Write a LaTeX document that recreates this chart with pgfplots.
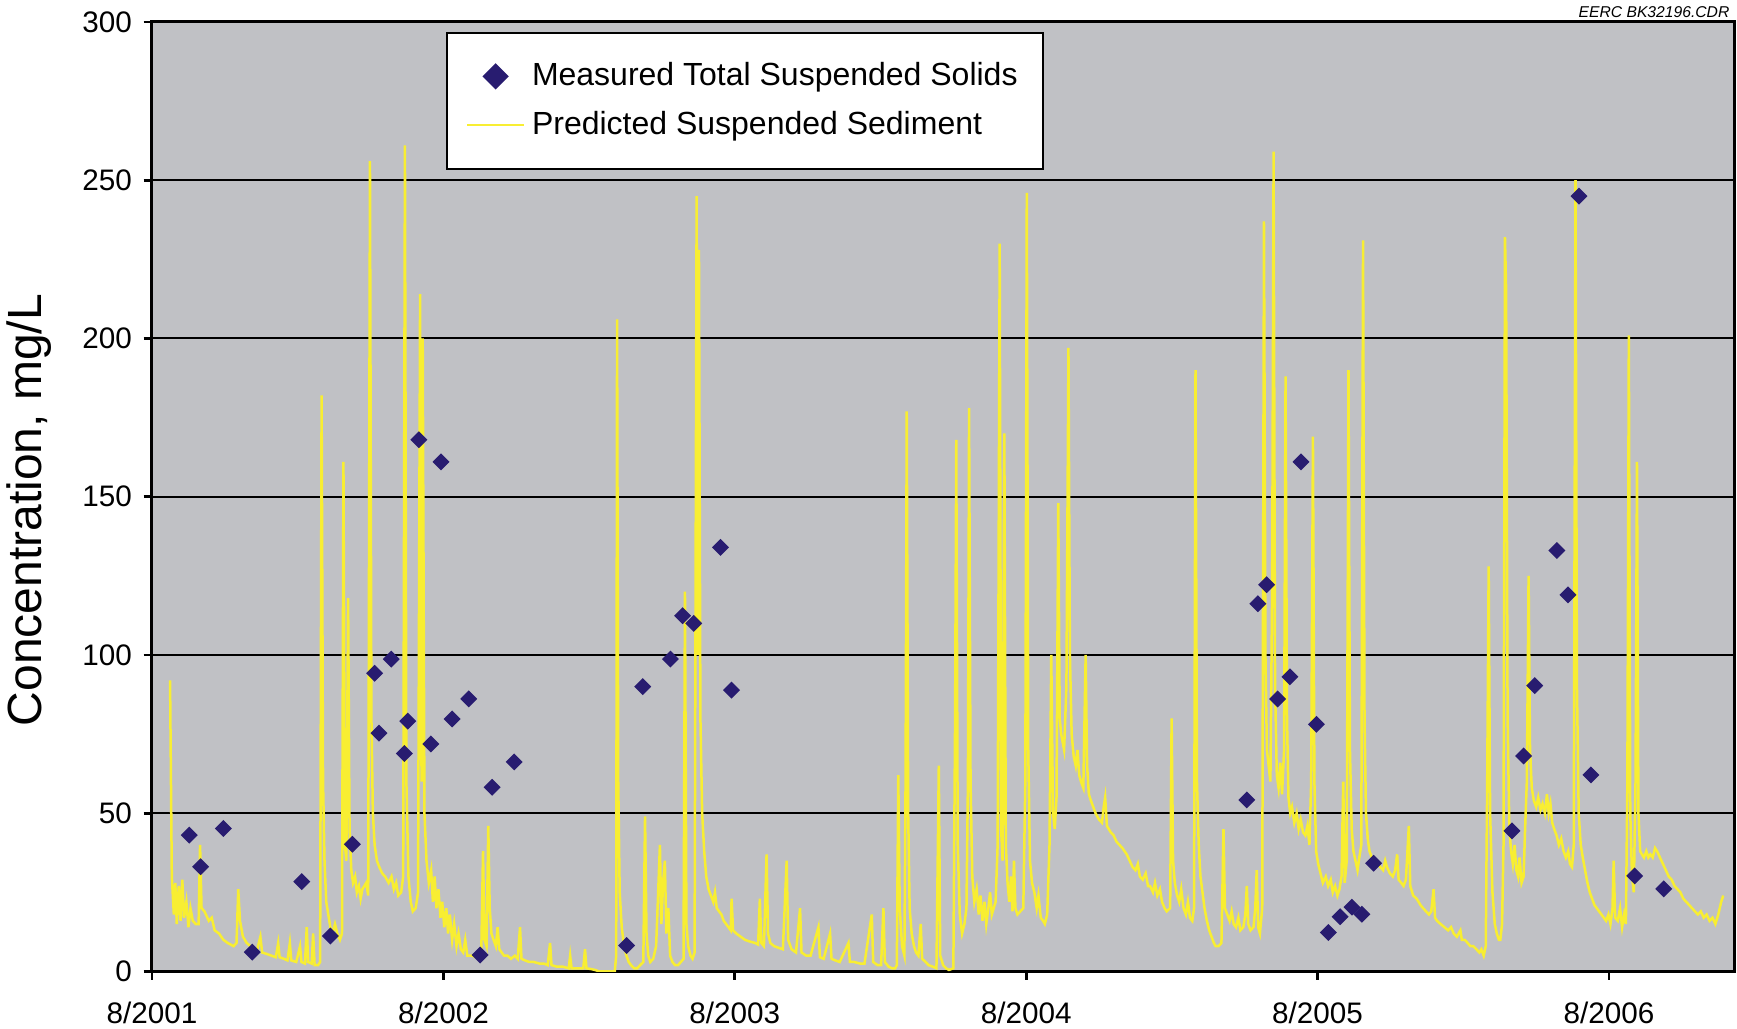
\documentclass[border=0pt]{standalone}
\usepackage{fontspec}
\setmainfont{Liberation Sans}
\usepackage{pgfplots}
\pgfplotsset{compat=1.18}
\definecolor{plotbg}{RGB}{192,193,197}
\definecolor{sedyellow}{RGB}{248,238,50}
\definecolor{tssblue}{RGB}{40,28,112}

\begin{document}
\begin{tikzpicture}
\begin{axis}[
  scale only axis,
  width=474.6pt, height=284.85pt,
  xmin=0, xmax=5.429, ymin=0, ymax=300,
  axis background/.style={fill=plotbg},
  axis line style={line width=0.9pt},
  xtick={0,1,2,3,4,5},
  xticklabels={8/2001,8/2002,8/2003,8/2004,8/2005,8/2006},
  ytick={0,50,...,300},
  tick pos=left, tick align=outside,
  major tick length=2.5pt,
  tick style={line width=0.8pt, black},
  ymajorgrids, major grid style={line width=0.6pt, black},
  ticklabel style={font=\fontsize{8.9}{10}\selectfont},
  xticklabel style={yshift=-3.2pt},
  /pgf/number format/assume math mode=true,
  ylabel={Concentration, mg/L},
  ylabel style={font=\fontsize{14.4}{16}\selectfont, at={(axis description cs:-0.0776,0.486)}, anchor=center},
  legend style={at={(rel axis cs:0.186,0.9895)}, anchor=north west, draw=black, line width=0.6pt,
    fill=white, font=\fontsize{9.6}{11}\selectfont, row sep=2.2pt, inner xsep=5.6pt, inner ysep=6.8pt,
    cells={anchor=west}},
  reverse legend,
  legend image post style={mark size=2.5pt},
]
% predicted (daily model)
\addplot[sedyellow, line width=0.75pt] coordinates {
(0.062,92)(0.068,30)(0.075,18)(0.080,28)(0.085,15)(0.092,27)(0.098,16)(0.104,29)(0.110,17)(0.118,22)
(0.125,14)(0.132,20)(0.140,16)(0.150,15)(0.160,15)(0.165,40)(0.170,20)(0.180,19)(0.195,16)(0.205,17)
(0.215,13)(0.230,12)(0.245,10)(0.260,9)(0.280,8)(0.290,9)(0.296,26)(0.302,16)(0.312,11)(0.325,9)
(0.338,8)(0.350,7)(0.360,6.5)(0.372,11)(0.378,6)(0.395,5.5)(0.410,5)(0.425,4.5)(0.433,9)(0.438,4.5)
(0.453,4)(0.465,3.5)(0.473,9)(0.478,3.5)(0.495,3)(0.508,8)(0.513,3)(0.525,2.5)(0.531,14)(0.536,3)
(0.548,2.5)(0.553,12)(0.558,2)(0.570,2)(0.577,3)(0.582,182)(0.587,60)(0.592,35)(0.598,22)(0.605,18)
(0.612,14)(0.620,12)(0.628,15)(0.636,12)(0.645,10)(0.652,12)(0.657,161)(0.662,40)(0.667,35)(0.673,118)
(0.678,45)(0.684,32)(0.690,28)(0.697,30)(0.703,25)(0.710,27)(0.716,23)(0.722,26)(0.735,28)(0.742,24)
(0.748,256)(0.753,80)(0.758,50)(0.764,40)(0.772,35)(0.780,33)(0.790,31)(0.800,30)(0.812,28)(0.822,30)
(0.830,26)(0.838,28)(0.845,24)(0.855,25)(0.862,30)(0.868,261)(0.873,60)(0.880,30)(0.888,22)(0.895,19)
(0.905,20)(0.913,25)(0.920,214)(0.925,60)(0.929,200)(0.935,50)(0.942,35)(0.950,28)(0.958,32)(0.964,22)
(0.970,30)(0.976,20)(0.983,26)(0.990,17)(0.996,22)(1.003,14)(1.010,20)(1.016,12)(1.022,18)(1.030,10)
(1.037,15)(1.045,8)(1.052,12)(1.060,7)(1.068,6)(1.075,10)(1.082,5)(1.090,5)(1.100,5)(1.110,4.5)
(1.120,5)(1.130,6)(1.136,38)(1.141,10)(1.148,8)(1.154,46)(1.159,20)(1.165,12)(1.172,10)(1.180,8)
(1.186,14)(1.192,7)(1.200,6)(1.208,5)(1.220,5)(1.232,4)(1.245,5)(1.255,4)(1.263,14)(1.268,4)
(1.280,3.5)(1.295,3)(1.310,3)(1.330,2.5)(1.345,2.5)(1.358,2)(1.366,9)(1.371,2)(1.390,1.5)(1.410,1.5)
(1.430,1)(1.435,5)(1.440,1)(1.460,1)(1.480,1)(1.486,7)(1.491,1)(1.505,0.8)(1.520,0.5)(1.535,0)
(1.588,0)(1.593,5)(1.596,206)(1.600,60)(1.605,25)(1.612,14)(1.620,8)(1.628,5)(1.636,3)(1.644,2)
(1.655,1)(1.665,1)(1.675,2)(1.686,3)(1.692,49)(1.697,12)(1.703,5)(1.710,3)(1.720,4)(1.730,8)
(1.737,25)(1.743,40)(1.748,15)(1.754,28)(1.760,35)(1.765,12)(1.772,20)(1.778,5)(1.786,3)(1.795,2)
(1.805,2)(1.815,3)(1.824,4)(1.829,120)(1.834,15)(1.840,8)(1.848,5)(1.855,4)(1.862,6)(1.869,245)
(1.873,100)(1.877,228)(1.882,80)(1.888,50)(1.895,38)(1.902,30)(1.910,26)(1.918,24)(1.926,22)(1.932,25)
(1.938,20)(1.946,19)(1.954,18)(1.962,16)(1.970,15)(1.978,14)(1.986,13)(1.989,23)(1.994,13)(2.005,12)
(2.020,11)(2.035,10)(2.050,9.5)(2.070,9)(2.080,8.5)(2.086,23)(2.091,9)(2.100,8)(2.109,37)(2.114,12)
(2.122,9)(2.135,8)(2.150,7.5)(2.165,7)(2.178,35)(2.183,10)(2.195,7)(2.210,6)(2.224,20)(2.229,6)
(2.245,5)(2.260,5)(2.287,14)(2.292,4.5)(2.305,4)(2.327,12)(2.332,4)(2.345,3.5)(2.360,3)(2.390,9)
(2.395,3)(2.410,3)(2.430,2.5)(2.445,2.5)(2.470,18)(2.475,3)(2.490,2)(2.502,2)(2.510,20)(2.515,3)
(2.528,1.5)(2.540,1)(2.550,1)(2.556,2)(2.561,62)(2.566,20)(2.574,8)(2.582,5)(2.586,60)(2.590,177)
(2.595,50)(2.600,20)(2.607,12)(2.615,8)(2.622,6)(2.630,5)(2.638,15)(2.643,4)(2.655,3)(2.665,2)
(2.680,1.5)(2.692,1)(2.700,65)(2.705,5)(2.715,2)(2.725,1)(2.735,0.5)(2.750,1)(2.756,80)(2.760,168)
(2.765,40)(2.772,18)(2.780,12)(2.788,15)(2.795,20)(2.800,60)(2.804,178)(2.809,60)(2.815,30)(2.822,22)
(2.830,26)(2.837,18)(2.843,24)(2.850,16)(2.857,22)(2.863,15)(2.870,20)(2.876,25)(2.882,18)(2.895,22)
(2.902,40)(2.909,230)(2.914,45)(2.919,35)(2.925,170)(2.930,40)(2.936,28)(2.942,22)(2.948,30)(2.953,19)
(2.958,35)(2.963,20)(2.970,18)(2.990,20)(2.997,60)(3.002,246)(3.007,70)(3.013,35)(3.020,28)(3.028,25)
(3.036,20)(3.042,24)(3.050,17)(3.058,16)(3.064,15)(3.072,18)(3.080,40)(3.086,100)(3.092,50)(3.098,45)
(3.104,55)(3.110,148)(3.115,80)(3.120,75)(3.130,70)(3.138,90)(3.145,197)(3.150,100)(3.156,75)(3.163,68)
(3.170,65)(3.176,70)(3.182,62)(3.188,60)(3.196,58)(3.204,100)(3.209,65)(3.215,56)(3.222,54)(3.230,52)
(3.238,50)(3.250,48)(3.260,47)(3.266,52)(3.271,55)(3.277,46)(3.290,44)(3.300,43)(3.310,41)(3.320,40)
(3.330,39)(3.345,37)(3.355,35)(3.365,33)(3.375,32)(3.383,34)(3.390,30)(3.400,29)(3.410,31)(3.418,27)
(3.425,27)(3.435,25)(3.442,28)(3.450,24)(3.459,26)(3.466,22)(3.475,20)(3.482,19)(3.494,20)(3.499,80)
(3.504,35)(3.510,28)(3.518,24)(3.525,22)(3.532,26)(3.540,20)(3.548,18)(3.555,22)(3.562,17)(3.570,16)
(3.576,20)(3.581,190)(3.586,60)(3.592,40)(3.598,30)(3.605,25)(3.612,20)(3.620,16)(3.628,13)(3.636,11)
(3.644,9)(3.650,8)(3.660,8)(3.670,9)(3.677,45)(3.682,20)(3.690,18)(3.698,16)(3.705,19)(3.712,15)
(3.720,14)(3.728,17)(3.735,13)(3.745,14)(3.752,18)(3.757,27)(3.762,15)(3.770,13)(3.780,14)(3.786,20)
(3.791,32)(3.796,14)(3.802,12)(3.810,20)(3.816,237)(3.821,100)(3.826,70)(3.832,65)(3.838,60)(3.844,120)
(3.849,259)(3.854,90)(3.860,62)(3.866,58)(3.872,66)(3.878,56)(3.885,70)(3.890,188)(3.895,80)(3.900,55)
(3.906,50)(3.912,52)(3.920,47)(3.928,50)(3.935,45)(3.942,48)(3.950,44)(3.958,43)(3.965,46)(3.972,40)
(3.978,60)(3.984,169)(3.989,60)(3.995,38)(4.002,34)(4.010,31)(4.018,28)(4.028,30)(4.036,27)(4.045,29)
(4.052,25)(4.060,27)(4.068,24)(4.075,26)(4.082,30)(4.088,60)(4.093,28)(4.100,35)(4.106,190)(4.111,70)
(4.117,45)(4.123,38)(4.130,35)(4.137,32)(4.143,36)(4.150,40)(4.156,231)(4.161,80)(4.166,50)(4.172,42)
(4.178,38)(4.186,36)(4.195,35)(4.205,34)(4.215,33)(4.225,32)(4.232,35)(4.238,33)(4.248,31)(4.258,30)
(4.266,32)(4.273,37)(4.278,29)(4.287,28)(4.295,27)(4.303,29)(4.313,46)(4.318,27)(4.328,24)(4.340,23)
(4.353,21)(4.362,20)(4.372,19)(4.382,18)(4.390,19)(4.398,26)(4.403,17)(4.410,16)(4.422,15)(4.435,14)
(4.448,13)(4.458,14)(4.467,12)(4.478,11)(4.490,13)(4.495,10)(4.505,10)(4.515,9)(4.524,8)(4.534,8)
(4.545,7)(4.555,6)(4.562,7)(4.570,5)(4.577,8)(4.582,60)(4.587,128)(4.592,50)(4.600,25)(4.608,15)
(4.615,12)(4.622,10)(4.627,10)(4.633,15)(4.638,40)(4.643,232)(4.647,215)(4.652,80)(4.658,45)(4.664,38)
(4.670,34)(4.676,40)(4.682,32)(4.688,30)(4.693,36)(4.700,28)(4.707,30)(4.712,45)(4.718,60)(4.724,125)
(4.729,70)(4.735,58)(4.742,54)(4.750,52)(4.757,55)(4.765,51)(4.772,53)(4.780,50)(4.787,56)(4.793,50)
(4.799,53)(4.805,47)(4.812,45)(4.820,43)(4.828,40)(4.836,42)(4.844,38)(4.852,36)(4.860,38)(4.866,34)
(4.873,33)(4.879,40)(4.885,250)(4.890,90)(4.896,50)(4.903,40)(4.910,36)(4.918,32)(4.926,28)(4.934,25)
(4.942,23)(4.950,21)(4.958,20)(4.966,19)(4.974,18)(4.982,17)(4.990,16)(4.998,18)(5.005,15)(5.012,20)
(5.016,35)(5.021,17)(5.030,16)(5.038,20)(5.045,14)(5.052,18)(5.058,15)(5.063,60)(5.068,201)(5.073,50)
(5.079,30)(5.085,25)(5.091,60)(5.096,161)(5.101,50)(5.107,38)(5.113,37)(5.120,36)(5.128,38)(5.135,36)
(5.142,37)(5.150,36)(5.158,39)(5.165,38)(5.175,36)(5.185,34)(5.195,32)(5.205,30)(5.215,29)(5.225,27)
(5.235,26)(5.245,25)(5.255,23)(5.265,22)(5.275,21)(5.285,20)(5.295,19)(5.305,18)(5.315,19)(5.325,17)
(5.335,18)(5.345,16)(5.355,17)(5.365,15)(5.375,18)(5.385,22)(5.392,24)
};
\addlegendentry{Predicted Suspended Sediment}
% measured TSS samples
\addplot[only marks, mark=square*, mark size=1.6pt,
  mark options={rotate=45, fill=tssblue, draw=tssblue}] coordinates {
(0.128,43.1)(0.167,33.1)(0.245,45.2)(0.344,6.1)(0.514,28.4)(0.612,11.2)(0.688,40.2)(0.764,94.2)
(0.779,75.3)(0.821,98.7)(0.866,68.9)(0.878,79.1)(0.916,168)(0.957,71.9)(0.992,161)(1.030,79.8)
(1.087,86.1)(1.126,5.2)(1.167,58.2)(1.243,66.2)(1.629,8.2)(1.684,90)(1.779,98.7)(1.821,112.4)
(1.859,110)(1.951,134)(1.989,88.9)(3.757,54.2)(3.795,116.2)(3.825,122.2)(3.863,86.1)(3.905,93.1)
(3.943,161)(3.996,78.1)(4.037,12.3)(4.077,17.3)(4.118,20.3)(4.152,18.1)(4.192,34.2)(4.667,44.4)
(4.707,68.1)(4.745,90.3)(4.821,133)(4.859,119)(4.897,245)(4.938,62.1)(5.088,30.2)(5.188,26.1)
};
\addlegendentry{Measured Total Suspended Solids}
\coordinate (bl) at (rel axis cs:0,0);
\coordinate (tr) at (rel axis cs:1,1);
\end{axis}
\node[anchor=base east, inner sep=0pt, font=\fontsize{4.7}{5}\selectfont\itshape]
  at ([xshift=-1.2pt,yshift=1.3pt]tr) {EERC BK32196.CDR};
\pgfresetboundingbox
\path ([xshift=-45.6pt,yshift=-17.25pt]bl) rectangle ([xshift=0.9pt,yshift=6.6pt]tr);
\end{tikzpicture}
\end{document}
